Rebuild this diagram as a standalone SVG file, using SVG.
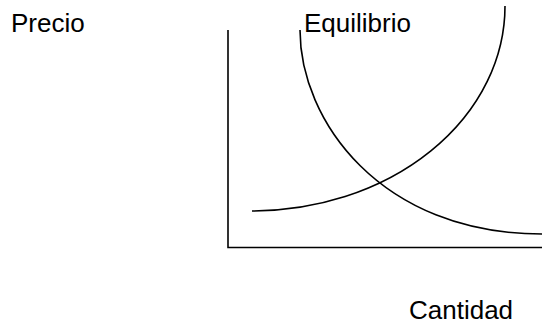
<svg xmlns="http://www.w3.org/2000/svg" width="546" height="325" viewBox="0 0 546 325">
<style>
.t{font-family:"Liberation Sans",Arial,sans-serif;font-size:26px;fill:#000}
.l{fill:none;stroke:#000;stroke-width:1.6}
</style>
<rect width="546" height="325" fill="#fff"/>
<g id="axes">
<path class="l" d="M228,30 V247.5 H542"/>
</g>
<g id="connectors">
<path id="supply" class="l" d="M252,211 A253,205 0 0 0 505,6"/>
<path id="demand" class="l" d="M300,30 C300,120 380,234 542,234"/>
</g>
<g id="labels">
<text class="t" x="11" y="32">Precio</text>
<text class="t" x="304" y="32">Equilibrio</text>
<text class="t" x="409" y="319">Cantidad</text>
</g>
</svg>
